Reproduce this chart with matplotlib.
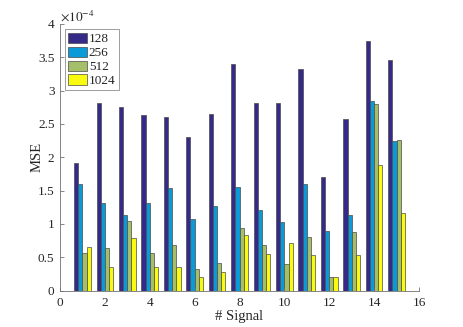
import numpy as np
import matplotlib
matplotlib.use("Agg")
import matplotlib.pyplot as plt

signals = np.arange(1, 16)
series_labels = ["128", "256", "512", "1024"]
mse_128 = [1.91, 2.81, 2.76, 2.63, 2.60, 2.31, 2.65, 3.40, 2.82, 2.81, 3.32, 1.70, 2.57, 3.75, 3.46]
mse_256 = [1.60, 1.32, 1.14, 1.31, 1.54, 1.07, 1.27, 1.55, 1.21, 1.03, 1.60, 0.90, 1.13, 2.85, 2.25]
mse_512 = [0.56, 0.64, 1.05, 0.57, 0.68, 0.32, 0.41, 0.94, 0.68, 0.40, 0.80, 0.21, 0.88, 2.80, 2.26]
mse_1024 = [0.65, 0.35, 0.79, 0.36, 0.36, 0.21, 0.28, 0.83, 0.55, 0.72, 0.53, 0.21, 0.54, 1.89, 1.16]
series = [mse_128, mse_256, mse_512, mse_1024]
colors = ["#352A87", "#0A9AD8", "#A5BE6A", "#F9FB0E"]

plt.rcParams['font.family'] = ['Liberation Serif', 'DejaVu Serif']
plt.rcParams['mathtext.fontset'] = 'stix'
txt = '#262626'
axc = '#707070'

fig = plt.figure(figsize=(4.63, 3.27), dpi=100)
ax = fig.add_axes([60/463, 36.5/327, 359/463, 266.5/327])

bw = 0.186
offs = (np.arange(4) - 1.5) * bw
for s, lab, c, o in zip(series, series_labels, colors, offs):
    ax.bar(signals + o, s, width=bw, color=c, edgecolor='#4a4a4a', linewidth=0.5, label=lab)

ax.set_xlim(0, 16)
ax.set_ylim(0, 4)
ax.set_xticks(np.arange(0, 17, 2))
ax.set_yticks(np.arange(0, 4.01, 0.5))
ax.set_yticklabels(["0", "0.5", "1", "1.5", "2", "2.5", "3", "3.5", "4"])
for sp in ['top', 'right']:
    ax.spines[sp].set_visible(False)
for sp in ['left', 'bottom']:
    ax.spines[sp].set_color(axc)
    ax.spines[sp].set_linewidth(0.6)
ax.tick_params(direction='in', length=3, width=0.6, color=axc, labelcolor=txt, labelsize=9.5)
ax.tick_params(axis='x', pad=5)
ax.tick_params(axis='y', pad=4)
ax.set_xlabel("# Signal", fontsize=10.5, color=txt)
ax.set_ylabel("MSE", fontsize=10.5, color=txt)
ax.yaxis.set_label_coords(-0.045, 0.5)
ax.xaxis.set_label_coords(0.5, -0.072)
ax.text(0.0, 1.003, r"$\times10^{-4}$", transform=ax.transAxes, fontsize=9.5, color=txt,
        ha='left', va='bottom')

leg = ax.legend(loc='upper left', bbox_to_anchor=(0.014, 0.98), fontsize=9.5, frameon=True,
                fancybox=False, edgecolor=axc, handlelength=1.4, handleheight=0.8,
                handletextpad=0.15, labelspacing=0.1, borderpad=0.25, borderaxespad=0)
leg.get_frame().set_linewidth(0.6)
for t in leg.get_texts():
    t.set_color(txt)

fig.savefig("out.png", dpi=100)
